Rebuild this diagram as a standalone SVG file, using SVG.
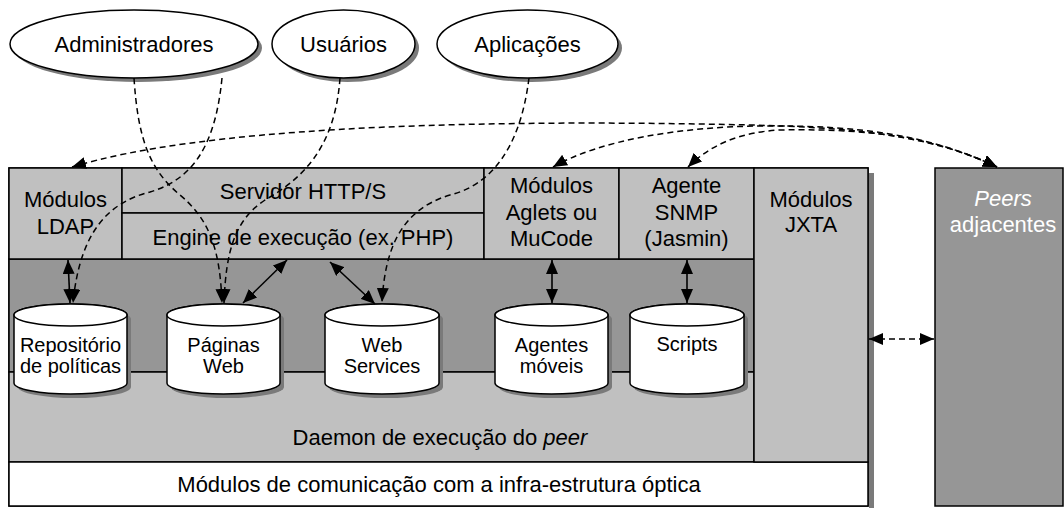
<svg xmlns="http://www.w3.org/2000/svg" width="1064" height="508" viewBox="0 0 1064 508">
<style>
.t{font-family:"Liberation Sans",Arial,sans-serif;font-size:22px;text-anchor:middle;fill:#000}
.c{font-size:20px}
.w{fill:#fff}
.lt{fill:#c0c0c0;stroke:#000;stroke-width:1.5}
.dk{fill:#969696;stroke:#000;stroke-width:1.5}
.wh{fill:#fff;stroke:#000;stroke-width:1.5}
.sh{fill:#7a7a7a}
.dash{fill:none;stroke:#000;stroke-width:1.5;stroke-dasharray:6,4}
.sol{fill:none;stroke:#000;stroke-width:1.6}
</style>
<defs>
<marker id="ah" viewBox="0 0 14 12" refX="14" refY="6" markerWidth="14" markerHeight="12" markerUnits="userSpaceOnUse" orient="auto-start-reverse"><path d="M0,0 L14,6 L0,12 z" fill="#000"/></marker>
</defs>

<g id="actor-admin">
<ellipse cx="138" cy="48" rx="124" ry="34" class="sh"/>
<ellipse cx="134" cy="44" rx="124" ry="34" class="wh"/>
<text x="134" y="52" class="t">Administradores</text>
</g>
<g id="actor-usuarios">
<ellipse cx="347.5" cy="48" rx="71.5" ry="34" class="sh"/>
<ellipse cx="343.5" cy="44" rx="71.5" ry="34" class="wh"/>
<text x="343.5" y="52" class="t">Usuários</text>
</g>
<g id="actor-aplicacoes">
<ellipse cx="531.5" cy="48" rx="90.5" ry="34" class="sh"/>
<ellipse cx="527.5" cy="44" rx="90.5" ry="34" class="wh"/>
<text x="527.5" y="52" class="t">Aplicações</text>
</g>

<g id="peer-box">
<rect x="869" y="173" width="5" height="335" class="sh"/>
<rect x="9" y="168" width="859" height="338" class="lt"/>
</g>
<g id="area-interna">
<rect x="9" y="259" width="745" height="113" class="dk"/>
</g>
<g id="daemon">
<rect x="9" y="372" width="745" height="90" class="lt"/>
<text x="440" y="445" class="t">Daemon de execução do <tspan font-style="italic">peer</tspan></text>
</g>
<g id="comunicacao">
<rect x="9" y="462" width="859" height="44" class="wh"/>
<text x="439" y="492" class="t">Módulos de comunicação com a infra-estrutura óptica</text>
</g>
<g id="ldap">
<rect x="9" y="168" width="113" height="91" class="lt"/>
<text x="65.5" y="207" class="t">Módulos</text>
<text x="65.5" y="234" class="t">LDAP</text>
</g>
<g id="http">
<rect x="122" y="168" width="362" height="45" class="lt"/>
<text x="303" y="199" class="t">Servidor HTTP/S</text>
</g>
<g id="engine">
<rect x="122" y="213" width="362" height="46" class="lt"/>
<text x="303" y="245" class="t">Engine de execução (ex. PHP)</text>
</g>
<g id="aglets">
<rect x="484" y="168" width="135" height="91" class="lt"/>
<text x="551.5" y="193" class="t">Módulos</text>
<text x="551.5" y="220" class="t">Aglets ou</text>
<text x="551.5" y="246" class="t">MuCode</text>
</g>
<g id="snmp">
<rect x="619" y="168" width="135" height="91" class="lt"/>
<text x="686.5" y="193" class="t">Agente</text>
<text x="686.5" y="220" class="t">SNMP</text>
<text x="686.5" y="246" class="t">(Jasmin)</text>
</g>
<g id="jxta">
<rect x="754" y="168" width="114" height="294" class="lt"/>
<text x="811" y="207" class="t">Módulos</text>
<text x="811" y="232" class="t">JXTA</text>
</g>
<g id="peers">
<rect x="935" y="168" width="128" height="338" class="dk"/>
<text x="1003" y="206" class="t w" font-style="italic">Peers</text>
<text x="1003" y="232" class="t w">adjacentes</text>
</g>

<g id="cyl-repositorio">
<path transform="translate(4,4)" class="sh" d="M14,315 L14,383 A56.5,11 0 0 0 127,383 L127,315 A56.5,11 0 0 0 14,315 Z"/>
<path class="wh" d="M14,315 L14,383 A56.5,11 0 0 0 127,383 L127,315 A56.5,11 0 0 0 14,315 Z"/>
<ellipse cx="70.5" cy="315" rx="56.5" ry="11" class="wh"/>
<text x="70.5" y="352" class="t c">Repositório</text>
<text x="70.5" y="373" class="t c">de políticas</text>
</g>
<g id="cyl-paginas">
<path transform="translate(4,4)" class="sh" d="M167,315 L167,383 A56.5,11 0 0 0 280,383 L280,315 A56.5,11 0 0 0 167,315 Z"/>
<path class="wh" d="M167,315 L167,383 A56.5,11 0 0 0 280,383 L280,315 A56.5,11 0 0 0 167,315 Z"/>
<ellipse cx="223.5" cy="315" rx="56.5" ry="11" class="wh"/>
<text x="223.5" y="352" class="t c">Páginas</text>
<text x="223.5" y="373" class="t c">Web</text>
</g>
<g id="cyl-webservices">
<path transform="translate(4,4)" class="sh" d="M325,315 L325,383 A57,11 0 0 0 439,383 L439,315 A57,11 0 0 0 325,315 Z"/>
<path class="wh" d="M325,315 L325,383 A57,11 0 0 0 439,383 L439,315 A57,11 0 0 0 325,315 Z"/>
<ellipse cx="382" cy="315" rx="57" ry="11" class="wh"/>
<text x="382" y="352" class="t c">Web</text>
<text x="382" y="373" class="t c">Services</text>
</g>
<g id="cyl-agentes">
<path transform="translate(4,4)" class="sh" d="M495,315 L495,383 A56.5,11 0 0 0 608,383 L608,315 A56.5,11 0 0 0 495,315 Z"/>
<path class="wh" d="M495,315 L495,383 A56.5,11 0 0 0 608,383 L608,315 A56.5,11 0 0 0 495,315 Z"/>
<ellipse cx="551.5" cy="315" rx="56.5" ry="11" class="wh"/>
<text x="551.5" y="352" class="t c">Agentes</text>
<text x="551.5" y="373" class="t c">móveis</text>
</g>
<g id="cyl-scripts">
<path transform="translate(4,4)" class="sh" d="M630,315 L630,383 A57,11 0 0 0 744,383 L744,315 A57,11 0 0 0 630,315 Z"/>
<path class="wh" d="M630,315 L630,383 A57,11 0 0 0 744,383 L744,315 A57,11 0 0 0 630,315 Z"/>
<ellipse cx="687" cy="315" rx="57" ry="11" class="wh"/>
<text x="687" y="351" class="t c">Scripts</text>
</g>

<g id="connectors">
<path class="dash" d="M134,78 C138,140 150,170 180,195 C210,220 220,250 222,303" marker-end="url(#ah)"/>
<path class="dash" d="M340,78 C335,150 300,180 265,200 C235,220 226,250 224,303" marker-end="url(#ah)"/>
<path class="dash" d="M222,78 C215,150 190,180 150,192 C110,202 80,230 73,303" marker-end="url(#ah)"/>
<path class="dash" d="M529,78 C520,150 490,185 450,195 C400,210 385,250 382,302" marker-end="url(#ah)"/>
<path class="dash" d="M72,167 C200,128 450,120 700,124 C830,126 920,130 997,167" marker-start="url(#ah)" marker-end="url(#ah)"/>
<path class="dash" d="M553,167 C600,140 680,127 760,126 C860,125 930,135 997,167" marker-start="url(#ah)" marker-end="url(#ah)"/>
<path class="dash" d="M688,167 C710,145 740,132 780,130 C880,128 940,140 997,167" marker-start="url(#ah)" marker-end="url(#ah)"/>
<line class="sol" x1="68" y1="260" x2="70" y2="303" marker-start="url(#ah)" marker-end="url(#ah)"/>
<line class="sol" x1="287" y1="260" x2="243" y2="303" marker-start="url(#ah)" marker-end="url(#ah)"/>
<line class="sol" x1="330" y1="262" x2="375" y2="304" marker-start="url(#ah)" marker-end="url(#ah)"/>
<line class="sol" x1="552" y1="260" x2="552" y2="303" marker-start="url(#ah)" marker-end="url(#ah)"/>
<line class="sol" x1="687" y1="260" x2="687" y2="303" marker-start="url(#ah)" marker-end="url(#ah)"/>
<line class="dash" x1="869" y1="339" x2="934" y2="339" marker-start="url(#ah)" marker-end="url(#ah)"/>
</g>
</svg>
